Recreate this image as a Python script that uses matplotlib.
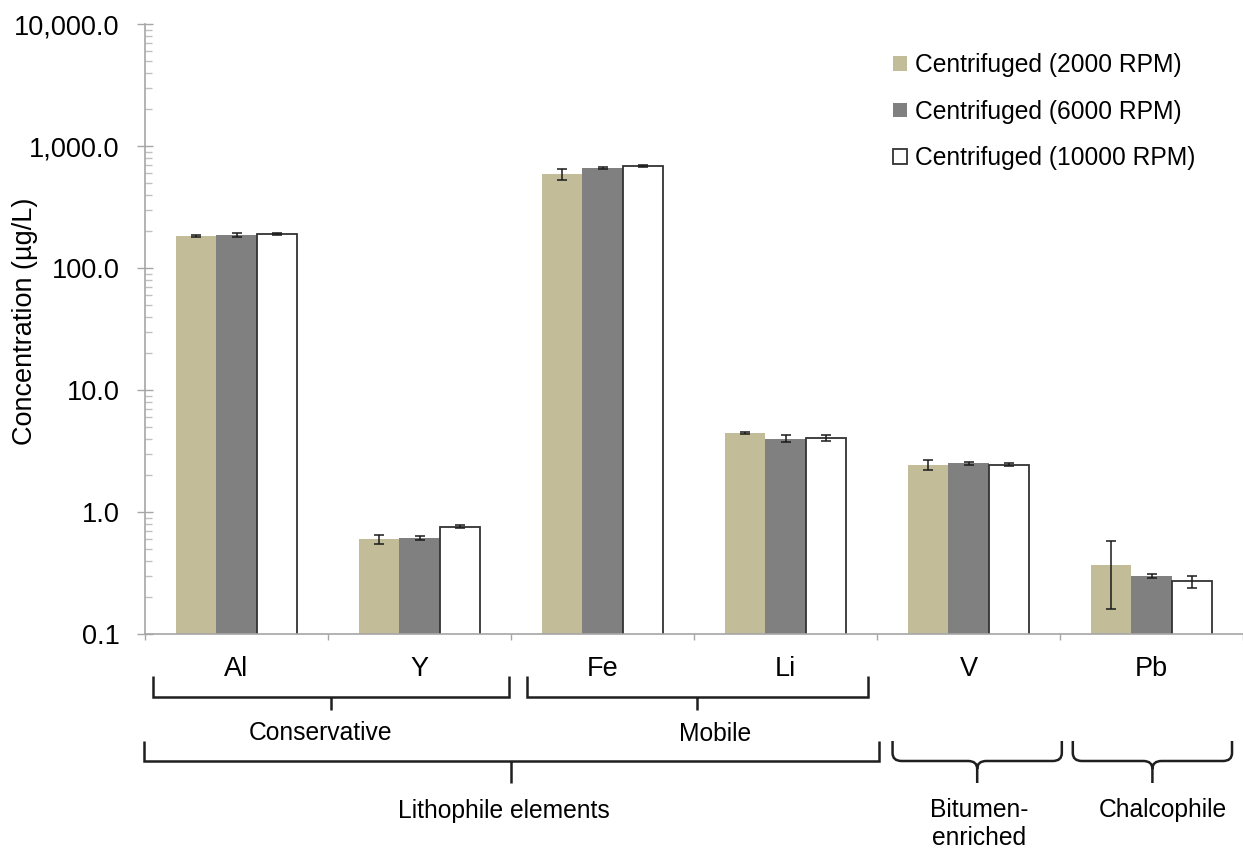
import matplotlib
matplotlib.use("Agg")
import matplotlib.pyplot as plt
import numpy as np
from matplotlib.ticker import FixedLocator, FuncFormatter, LogLocator, NullFormatter
from matplotlib.path import Path
from matplotlib.patches import PathPatch
from matplotlib.transforms import blended_transform_factory

plt.rcParams['font.family'] = ['Liberation Sans', 'DejaVu Sans']

# mean concentrations (ug/L) and their errors
elements = ['Al', 'Y', 'Fe', 'Li', 'V', 'Pb']
series = ['Centrifuged (2000 RPM)', 'Centrifuged (6000 RPM)', 'Centrifuged (10000 RPM)']
rpm2000 = [183, 0.60, 589, 4.45, 2.45, 0.37]
rpm6000 = [185, 0.61, 660, 4.0, 2.5, 0.30]
rpm10000 = [190, 0.76, 686, 4.05, 2.45, 0.27]
err2000 = [3, 0.05, 63, 0.1, 0.22, 0.21]
err6000 = [7, 0.025, 15, 0.24, 0.06, 0.01]
err10000 = [2, 0.02, 18, 0.2, 0.06, 0.03]

# element groupings shown under the axis
groups = [
    # label, x0, x1, label x, label y (px from top), row, curly
    ('Conservative', -0.455, 1.49, 0.46, 733, 0, False),
    ('Mobile', 1.585, 3.45, 2.615, 734, 0, False),
    ('Lithophile elements', -0.505, 3.51, 1.46, 811, 1, False),
    ('Bitumen-\nenriched', 3.585, 4.51, 4.06, 824, 1, True),
    ('Chalcophile', 4.57, 5.44, 5.06, 810, 1, True),
]

W, H = 1243, 852
fig = plt.figure(figsize=(W / 100, H / 100), dpi=100)
ax = fig.add_axes([145 / W, 1 - 634 / H, 1 - 145 / W, (634 - 24) / H])
ax.set_yscale('log')

x = np.arange(len(elements))
w = 0.22
styles = [
    dict(color='#c2bd98', edgecolor='none'),
    dict(color='#808080', edgecolor='none'),
    dict(color='white', edgecolor='#333333', linewidth=1.3),
]
for i, (vals, errs) in enumerate(zip([rpm2000, rpm6000, rpm10000],
                                     [err2000, err6000, err10000])):
    xs = x + (i - 1) * w
    ax.bar(xs, vals, width=w, label=series[i], zorder=2, **styles[i])
    ax.errorbar(xs, vals, yerr=errs, fmt='none', ecolor='#1a1a1a',
                elinewidth=1.1, capsize=3.5, capthick=1.1, zorder=3)

ax.set_ylim(0.1, 10000)
ax.set_xlim(-0.5, len(elements) - 0.5)

ax.yaxis.set_major_locator(LogLocator(base=10, numticks=10))
ax.yaxis.set_minor_locator(LogLocator(base=10, subs=np.arange(2, 10), numticks=20))
ax.yaxis.set_minor_formatter(NullFormatter())
ax.yaxis.set_major_formatter(FuncFormatter(lambda v, p: f"{v:,.1f}"))
ax.tick_params(axis='y', which='major', direction='inout', length=11, width=1,
               color='#a6a6a6', labelsize=19.5, pad=12.8)
ax.tick_params(axis='y', which='minor', direction='in', length=5, width=1,
               color='#c0c0c0')

ax.set_xticks(x)
ax.set_xticklabels(elements)
ax.xaxis.set_minor_locator(FixedLocator(np.arange(-0.5, len(elements), 1.0)))
ax.tick_params(axis='x', which='major', length=0, labelsize=19.5, pad=16)
ax.tick_params(axis='x', which='minor', direction='out', length=4.5, width=1,
               color='#a6a6a6')

for s in ['top', 'right']:
    ax.spines[s].set_visible(False)
for s in ['left', 'bottom']:
    ax.spines[s].set_color('#a6a6a6')
    ax.spines[s].set_linewidth(1.2)

fig.text(25 / W, 1 - 321 / H, 'Concentration (µg/L)', rotation=90,
         ha='center', va='center', fontsize=19.5)

leg = ax.legend(loc='upper left', bbox_to_anchor=(893 / W, 1 - 53 / H),
                bbox_transform=fig.transFigure, frameon=False, fontsize=17.7,
                handlelength=0.55, handleheight=0.55, handletextpad=0.35,
                labelspacing=0.92, borderpad=0, borderaxespad=0)

# brackets under the category axis
tr = blended_transform_factory(ax.transData, fig.transFigure)


def fy(py):
    return 1 - py / H


rows = [(676, 697, 710), (741, 761, 783)]
for label, x0, x1, lx, ly, row, curly in groups:
    top, bot, stem = rows[row]
    xc = (x0 + x1) / 2
    if curly:
        r = 0.05
        verts = [(x0, fy(top)), (x0, fy(bot - 8)), (x0, fy(bot)), (x0 + r, fy(bot)),
                 (xc - r, fy(bot)), (xc, fy(bot)), (xc, fy(bot + 8)),
                 (xc, fy(stem)),
                 (xc, fy(bot + 8)), (xc, fy(bot)), (xc + r, fy(bot)),
                 (x1 - r, fy(bot)), (x1, fy(bot)), (x1, fy(bot - 8)), (x1, fy(top))]
        codes = [Path.MOVETO, Path.LINETO, Path.CURVE3, Path.CURVE3,
                 Path.LINETO, Path.CURVE3, Path.CURVE3,
                 Path.LINETO,
                 Path.MOVETO, Path.CURVE3, Path.CURVE3,
                 Path.LINETO, Path.CURVE3, Path.CURVE3, Path.LINETO]
    else:
        verts = [(x0, fy(top)), (x0, fy(bot)), (x1, fy(bot)), (x1, fy(top)),
                 (xc, fy(bot)), (xc, fy(stem))]
        codes = [Path.MOVETO, Path.LINETO, Path.LINETO, Path.LINETO,
                 Path.MOVETO, Path.LINETO]
    fig.add_artist(PathPatch(Path(verts, codes), transform=tr, facecolor='none',
                             edgecolor='#1f1f1f', linewidth=1.8,
                             capstyle='butt', joinstyle='miter'))
    fig.text(lx, fy(ly), label, transform=tr, ha='center', va='center',
             fontsize=17.7, linespacing=1.25)

fig.savefig('out.png', dpi=100)
